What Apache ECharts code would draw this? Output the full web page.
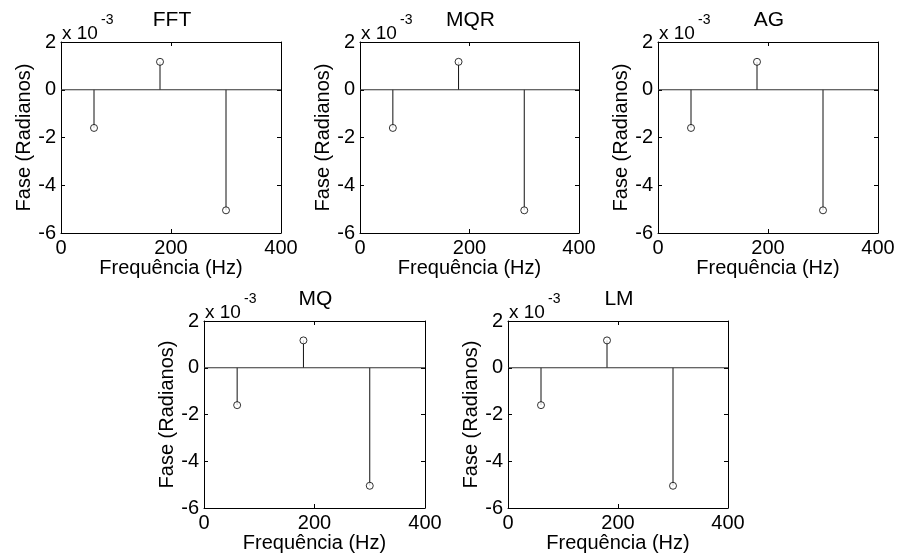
<!DOCTYPE html>
<html>
<head>
<meta charset="utf-8">
<script src="https://cdn.jsdelivr.net/npm/echarts@6/dist/echarts.min.js"></script>
<style>
  html, body { margin: 0; padding: 0; background: #fff; }
  #chart { width: 898px; height: 559px; }
</style>
</head>
<body>
<div id="chart"></div>
<script>
// frequências das harmônicas (Hz)
const freqs = [60, 180, 300]
// fase estimada em cada método (x 10^-3 rad)
const phaseFFT = [-1.6, 1.17, -5.05]
const phaseMQR = [-1.6, 1.17, -5.05]
const phaseAG = [-1.6, 1.17, -5.05]
const phaseMQ = [-1.6, 1.17, -5.05]
const phaseLM = [-1.6, 1.17, -5.05]
const methodNames = ['FFT', 'MQR', 'AG', 'MQ', 'LM']
const xTicks = [0, 200, 400]
const yTicks = [-6, -4, -2, 0, 2]

const FONT = "'Liberation Sans', Arial, sans-serif"
const allPhases = [phaseFFT, phaseMQR, phaseAG, phaseMQ, phaseLM]

// posição de cada eixo na figura
const boxes = [
  { left: 61, top: 42, width: 220, height: 191 },
  { left: 360, top: 42, width: 219, height: 191 },
  { left: 658, top: 42, width: 220, height: 191 },
  { left: 204, top: 321, width: 221, height: 187 },
  { left: 508, top: 321, width: 220, height: 187 }
]

const chart = echarts.init(document.getElementById('chart'), null, { renderer: 'canvas' })

const grid = []
const xAxis = []
const yAxis = []
const series = []
const title = []
const graphic = []

const lineStyle = { color: '#000', width: 1 }
const tickStyle = { show: true, inside: true, length: 4, lineStyle: { color: '#000', width: 1 } }

boxes.forEach((b, i) => {
  grid.push({ left: b.left, top: b.top, width: b.width, height: b.height, containLabel: false })

  // eixo inferior com rótulos
  xAxis.push({
    type: 'value', gridIndex: i, min: xTicks[0], max: xTicks[xTicks.length - 1], interval: 200,
    position: 'bottom',
    axisLine: { show: true, onZero: false, lineStyle },
    axisTick: tickStyle,
    splitLine: { show: false },
    axisLabel: { show: true, color: '#000', fontSize: 20, fontFamily: FONT, margin: 5 },
    name: 'Frequência (Hz)', nameLocation: 'middle', nameGap: 21,
    nameTextStyle: { color: '#000', fontSize: 20, fontFamily: FONT }
  })
  // eixo superior espelhado (só ticks)
  xAxis.push({
    type: 'value', gridIndex: i, min: xTicks[0], max: xTicks[xTicks.length - 1], interval: 200,
    position: 'top',
    axisLine: { show: true, onZero: false, lineStyle },
    axisTick: tickStyle,
    splitLine: { show: false },
    axisLabel: { show: false }
  })
  yAxis.push({
    type: 'value', gridIndex: i, min: yTicks[0], max: yTicks[yTicks.length - 1], interval: 2,
    position: 'left',
    axisLine: { show: true, onZero: false, lineStyle },
    axisTick: tickStyle,
    splitLine: { show: false },
    axisLabel: { show: true, color: '#000', fontSize: 20, fontFamily: FONT, margin: 5 },
    name: 'Fase (Radianos)', nameLocation: 'middle', nameGap: 24,
    nameTextStyle: { color: '#000', fontSize: 20, fontFamily: FONT }
  })
  yAxis.push({
    type: 'value', gridIndex: i, min: yTicks[0], max: yTicks[yTicks.length - 1], interval: 2,
    position: 'right',
    axisLine: { show: true, onZero: false, lineStyle },
    axisTick: tickStyle,
    splitLine: { show: false },
    axisLabel: { show: false }
  })

  const data = freqs.map((f, k) => [f, allPhases[i][k]])

  // linha de base em zero
  series.push({
    type: 'line', xAxisIndex: 2 * i, yAxisIndex: 2 * i,
    data: [[xTicks[0], 0], [xTicks[xTicks.length - 1], 0]],
    symbol: 'none', silent: true,
    lineStyle: { color: '#333', width: 1 }
  })
  // hastes
  series.push({
    type: 'custom', xAxisIndex: 2 * i, yAxisIndex: 2 * i,
    data,
    renderItem: (params, api) => {
      const p0 = api.coord([api.value(0), 0])
      const p1 = api.coord([api.value(0), api.value(1)])
      return {
        type: 'line',
        shape: { x1: p0[0], y1: p0[1], x2: p1[0], y2: p1[1] },
        style: { stroke: '#111', lineWidth: 1 }
      }
    }
  })
  // marcadores
  series.push({
    type: 'scatter', xAxisIndex: 2 * i, yAxisIndex: 2 * i,
    data,
    symbol: 'circle', symbolSize: 7,
    itemStyle: { color: '#fff', borderColor: '#000', borderWidth: 1 },
    z: 5
  })

  title.push({
    text: methodNames[i],
    left: b.left + b.width / 2 - 4, top: b.top - 37,
    textAlign: 'center',
    textStyle: { color: '#000', fontSize: 21, fontWeight: 'normal', fontFamily: FONT }
  })

  graphic.push({
    type: 'text', left: b.left + 1, top: b.top - 18,
    style: { text: 'x 10', fill: '#000', font: '19px ' + FONT }
  })
  graphic.push({
    type: 'text', left: b.left + 40, top: b.top - 29,
    style: { text: '-3', fill: '#000', font: '14px ' + FONT }
  })
})

chart.setOption({
  backgroundColor: '#fff',
  animation: false,
  title,
  grid,
  xAxis,
  yAxis,
  series,
  graphic
})
</script>
</body>
</html>
